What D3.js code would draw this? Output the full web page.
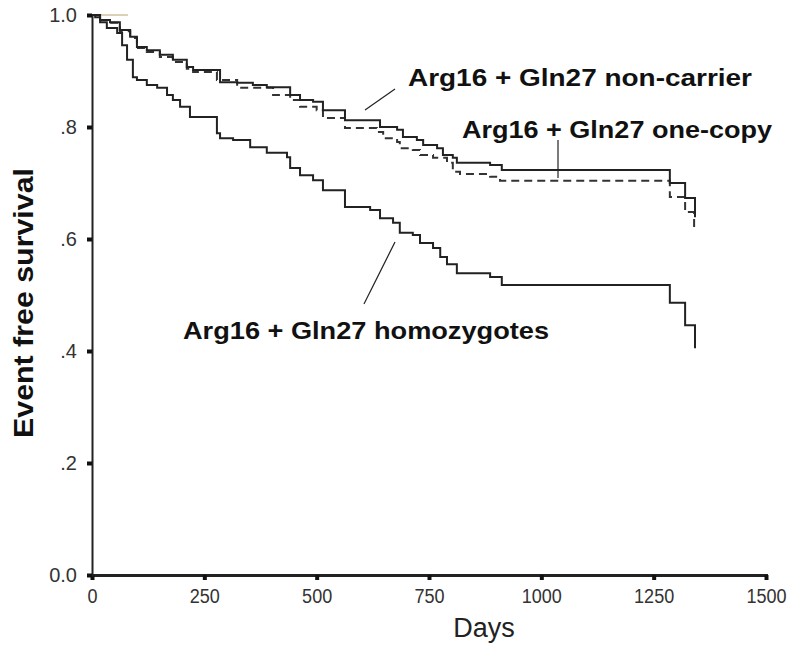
<!DOCTYPE html>
<html><head><meta charset="utf-8">
<script src="https://cdn.jsdelivr.net/npm/d3@7"></script>
<style>
html,body{margin:0;padding:0;background:#fff;}
svg{display:block;font-family:"Liberation Sans",Arial,sans-serif;}
</style></head>
<body><svg id="c" width="790" height="647"></svg>
<script>
// ---- data ----
const nonCarrierDays = [0,18,40,62,85,100,122,151,180,211,225,285,323,358,389,441,463,492,514,563,641,679,692,723,737,768,781,803,812,886,912,1286,1320,1342];
const nonCarrierSurv = [1.0,.991,.987,.973,.961,.943,.937,.929,.920,.907,.902,.880,.879,.875,.871,.857,.848,.845,.830,.812,.800,.795,.782,.777,.768,.762,.750,.745,.736,.732,.723,.700,.673,.639];

const oneCopyDays = [0,18,40,62,85,100,122,151,180,211,225,278,323,403,441,463,500,514,563,634,648,679,685,714,730,759,790,803,819,886,908,1286,1320,1340];
const oneCopySurv = [1.0,.991,.986,.971,.959,.941,.934,.925,.916,.904,.898,.884,.870,.857,.848,.836,.830,.816,.798,.791,.780,.773,.762,.759,.750,.745,.736,.720,.716,.711,.704,.675,.648,.621];

const homoDays = [0,7,18,33,56,67,78,91,100,122,145,167,180,196,218,278,285,314,352,389,434,441,463,492,514,563,619,641,670,685,714,730,759,775,790,812,886,912,1286,1320,1342];
const homoSurv = [1.0,.996,.987,.977,.968,.946,.920,.889,.884,.875,.870,.857,.848,.836,.818,.789,.780,.777,.764,.754,.746,.727,.714,.705,.687,.657,.652,.637,.629,.611,.607,.593,.584,.568,.555,.539,.532,.518,.486,.446,.405];

const xTicks = [0,250,500,750,1000,1250,1500];
const xTickLabels = ["0","250","500","750","1000","1250","1500"];
const yTicks = [0,0.2,0.4,0.6,0.8,1.0];
const yTickLabels = ["0.0",".2",".4",".6",".8","1.0"];

const seriesNames = ["Arg16 + Gln27 non-carrier","Arg16 + Gln27 one-copy","Arg16 + Gln27 homozygotes"];

// ---- drawing ----
const svg = d3.select("#c");
const x = d3.scaleLinear().domain([0,1500]).range([92,766]);
const y = d3.scaleLinear().domain([0,1]).range([575,15]);

const line = d3.line().x(d=>x(d[0])).y(d=>y(d[1])).curve(d3.curveStepAfter);
const zip = (a,b)=>a.map((v,i)=>[v,b[i]]);

// faint tan mark at 1.0
svg.append("line").attr("x1",x(0)).attr("x2",x(80)).attr("y1",y(1)).attr("y2",y(1))
  .attr("stroke","#b8a070").attr("stroke-width",1);

svg.append("path").datum(zip(homoDays,homoSurv)).attr("d",line)
  .attr("fill","none").attr("stroke","#222").attr("stroke-width",2);
svg.append("path").datum(zip(oneCopyDays,oneCopySurv)).attr("d",line)
  .attr("fill","none").attr("stroke","#333").attr("stroke-width",2).attr("stroke-dasharray","8,5");
svg.append("path").datum(zip(nonCarrierDays,nonCarrierSurv)).attr("d",line)
  .attr("fill","none").attr("stroke","#222").attr("stroke-width",2);

// axes
const xAxis = d3.axisBottom(x).tickValues(xTicks).tickFormat((d,i)=>xTickLabels[i]).tickSize(5).tickPadding(8);
const gx = svg.append("g").attr("transform","translate(0,575)").call(xAxis);
gx.select(".domain").attr("stroke","#222").attr("stroke-width",3);
gx.selectAll(".tick line").attr("stroke","#111").attr("stroke-width",4);
gx.selectAll(".tick text").attr("fill","#333").attr("font-size",21).attr("font-family","Liberation Sans, Arial, sans-serif")
  .attr("transform","scale(0.86,1)");

const yAxis = d3.axisLeft(y).tickValues(yTicks).tickFormat((d,i)=>yTickLabels[i]).tickSize(5).tickPadding(10);
const gy = svg.append("g").attr("transform","translate(92,0)").call(yAxis);
gy.select(".domain").attr("stroke","#222").attr("stroke-width",2);
gy.selectAll(".tick line").attr("stroke","#111").attr("stroke-width",4);
gy.selectAll(".tick text").attr("fill","#333").attr("font-size",20).attr("font-family","Liberation Sans, Arial, sans-serif");

// axis titles
svg.append("text").attr("x",484).attr("y",637).attr("text-anchor","middle")
  .attr("font-size",27).attr("fill","#222").text("Days");
svg.append("text").attr("transform","translate(33,303) rotate(-90)").attr("text-anchor","middle")
  .attr("font-size",28).attr("font-weight","bold").attr("fill","#111")
  .attr("textLength",270).attr("lengthAdjust","spacingAndGlyphs").text("Event free survival");

// series labels + leader lines
const labels = [
  {t:seriesNames[0], x:408, y:86, w:344},
  {t:seriesNames[1], x:462, y:138, w:310},
  {t:seriesNames[2], x:183, y:339, w:366}
];
labels.forEach(l=>{
  svg.append("text").attr("x",l.x).attr("y",l.y).attr("font-size",24).attr("font-weight","bold")
    .attr("fill","#111").attr("textLength",l.w).attr("lengthAdjust","spacingAndGlyphs").text(l.t);
});
const leaders = [[395,89,365,110],[558,140,558,178],[395,242,364,304]];
leaders.forEach(a=>{
  svg.append("line").attr("x1",a[0]).attr("y1",a[1]).attr("x2",a[2]).attr("y2",a[3])
    .attr("stroke","#222").attr("stroke-width",1.2);
});
</script></body></html>
